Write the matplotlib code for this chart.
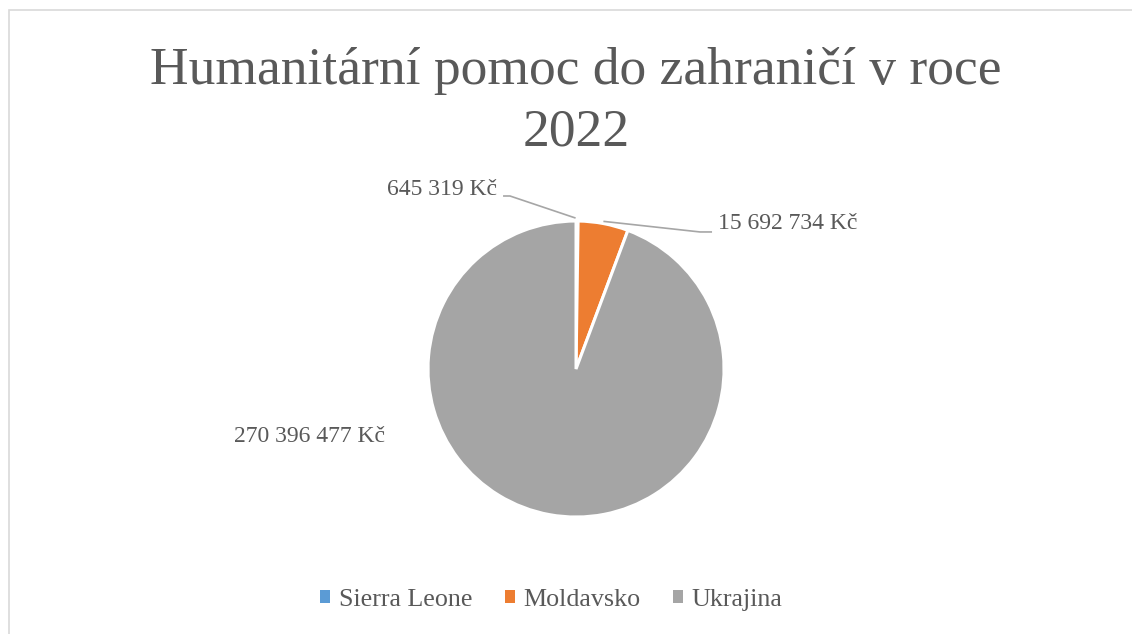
import numpy as np
import matplotlib.pyplot as plt
from matplotlib.patches import Rectangle

# data
countries = ["Sierra Leone", "Moldavsko", "Ukrajina"]
amounts = [645319, 15692734, 270396477]
colors = ["#5B9BD5", "#ED7D31", "#A5A5A5"]
title = "Humanitární pomoc do zahraničí v roce\n2022"

def fmt(v):
    return "{:,}".format(v).replace(",", " ") + " Kč"

plt.rcParams['font.family'] = ['Liberation Serif', 'DejaVu Serif']
txt = "#595959"
lead = "#A6A6A6"

fig = plt.figure(figsize=(11.32, 6.34), dpi=100)
fig.patch.set_facecolor("white")
fig.add_artist(Rectangle((8.5 / 1132, -0.1), 1.2, 1.1 - 10.5 / 634,
                         transform=fig.transFigure, fill=False,
                         edgecolor="#D9D9D9", linewidth=1.2))

ax = fig.add_axes([0.3781, 0.1845, 0.2615, 0.4669])
wedges, _ = ax.pie(amounts, colors=colors, startangle=90, counterclock=False,
                   radius=1, wedgeprops=dict(edgecolor="white", linewidth=2.2))
ax.set_xlim(-1, 1)
ax.set_ylim(-1, 1)
ax.set_aspect("equal")
ax.axis("off")

# wedge mid points on the edge
mids = []
for w in wedges:
    a = np.deg2rad((w.theta1 + w.theta2) / 2)
    mids.append((np.cos(a), np.sin(a)))

# Sierra Leone label, leader going up-left
x0, y0 = mids[0][0] - 0.01, mids[0][1] + 0.02
ax.plot([x0, -0.446, -0.493], [y0, 1.169, 1.169], color=lead, lw=1.2,
        clip_on=False, solid_capstyle="butt")
ax.text(-0.534, 1.216, fmt(amounts[0]), ha="right", va="center",
        fontsize=17, color=txt)

# Moldavsko label, leader going right
x1, y1 = mids[1][0], mids[1][1] + 0.015
ax.plot([x1, 0.838, 0.919], [y1, 0.926, 0.926], color=lead, lw=1.2,
        clip_on=False, solid_capstyle="butt")
ax.text(0.959, 0.98, fmt(amounts[1]), ha="left", va="center",
        fontsize=17, color=txt)

# Ukrajina label, no leader
ax.text(-1.29, -0.453, fmt(amounts[2]), ha="right", va="center",
        fontsize=17, color=txt)

fig.text(0.509, 0.840, title, ha="center", va="center", fontsize=38.5,
         color=txt, linespacing=1.36)

leg = fig.legend(wedges, countries, loc="center", bbox_to_anchor=(0.487, 0.054),
                 ncol=3, frameon=False, fontsize=18.7, handlelength=0.4,
                 handleheight=0.4, handletextpad=0.32, columnspacing=1.25)
for t in leg.get_texts():
    t.set_color(txt)
for h in leg.legend_handles:
    h.set_edgecolor("none")

fig.savefig("out.png", dpi=100, facecolor="white")
